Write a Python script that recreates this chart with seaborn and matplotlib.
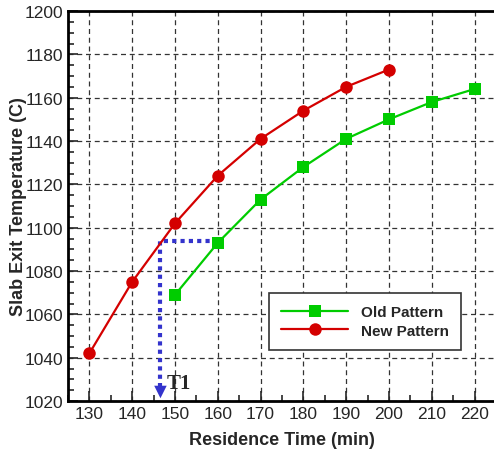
import seaborn as sns
import matplotlib.pyplot as plt
import pandas as pd
from matplotlib.ticker import MultipleLocator

old_time = [150, 160, 170, 180, 190, 200, 210, 220]
old_temp = [1069, 1093, 1113, 1128, 1141, 1150, 1158, 1164]
new_time = [130, 140, 150, 160, 170, 180, 190, 200]
new_temp = [1042, 1075, 1102, 1124, 1141, 1154, 1165, 1173]

# T1 guide
t1_time = 146.6
t1_temp = 1093.8

sns.set_style("ticks")
plt.rcParams['font.family'] = ['Liberation Sans', 'DejaVu Sans']

df = pd.concat([
    pd.DataFrame({"time": old_time, "temp": old_temp, "pattern": "Old Pattern"}),
    pd.DataFrame({"time": new_time, "temp": new_temp, "pattern": "New Pattern"}),
])

fig = plt.figure(figsize=(4.94, 4.52), dpi=100)
ax = fig.add_axes([68 / 494, 50 / 452, 428 / 494, 390 / 452])

sns.lineplot(data=df, x="time", y="temp", hue="pattern", style="pattern",
             palette={"Old Pattern": "#00cc00", "New Pattern": "#d40000"},
             markers={"Old Pattern": "s", "New Pattern": "o"}, dashes=False,
             markersize=9, markeredgewidth=0, linewidth=1.6, ax=ax, zorder=3)

ax.set_xlim(125, 225)
ax.set_ylim(1020, 1200)
ax.xaxis.set_major_locator(MultipleLocator(10))
ax.xaxis.set_minor_locator(MultipleLocator(5))
ax.yaxis.set_major_locator(MultipleLocator(20))
ax.yaxis.set_minor_locator(MultipleLocator(5))
ax.tick_params(which="both", direction="in", labelsize=12.5, width=1.2)
ax.tick_params(which="major", length=7)
ax.tick_params(which="minor", length=4)
ax.grid(True, which="major", color="black", linestyle=(0, (4, 3)), linewidth=0.9, alpha=0.8)
for s in ax.spines.values():
    s.set_linewidth(2)
    s.set_color("black")
ax.spines["right"].set_visible(False)

# blue dotted guide with arrow
ax.plot([160, t1_time, t1_time], [t1_temp, t1_temp, 1024], color="#3333cc",
        linestyle=(0, (1, 1)), linewidth=3, zorder=2)
ax.annotate("", xy=(t1_time, 1020), xytext=(t1_time, 1027),
            arrowprops=dict(arrowstyle="-|>,head_width=0.45,head_length=0.9",
                            color="#3333cc", lw=0), zorder=4)
ax.text(t1_time + 1.5, 1028.5, "T1", fontsize=15, fontweight="bold",
        family="Liberation Serif", va="center", ha="left")

ax.set_xlabel("Residence Time (min)", fontsize=13, fontweight="bold", labelpad=7.5)
ax.set_ylabel("Slab Exit Temperature (C)", fontsize=13, fontweight="bold", labelpad=-2)

handles, labels = ax.get_legend_handles_labels()
leg = ax.legend(handles, labels, loc="lower right", bbox_to_anchor=(0.918, 0.131),
                borderaxespad=0, fancybox=False, framealpha=1, edgecolor="#333333",
                prop={"weight": "bold", "size": 11}, handlelength=4.4,
                labelspacing=0.3, borderpad=0.8, handletextpad=0.8)
leg.get_frame().set_linewidth(1.2)

fig.savefig("out.png", dpi=100)
plt.close()
